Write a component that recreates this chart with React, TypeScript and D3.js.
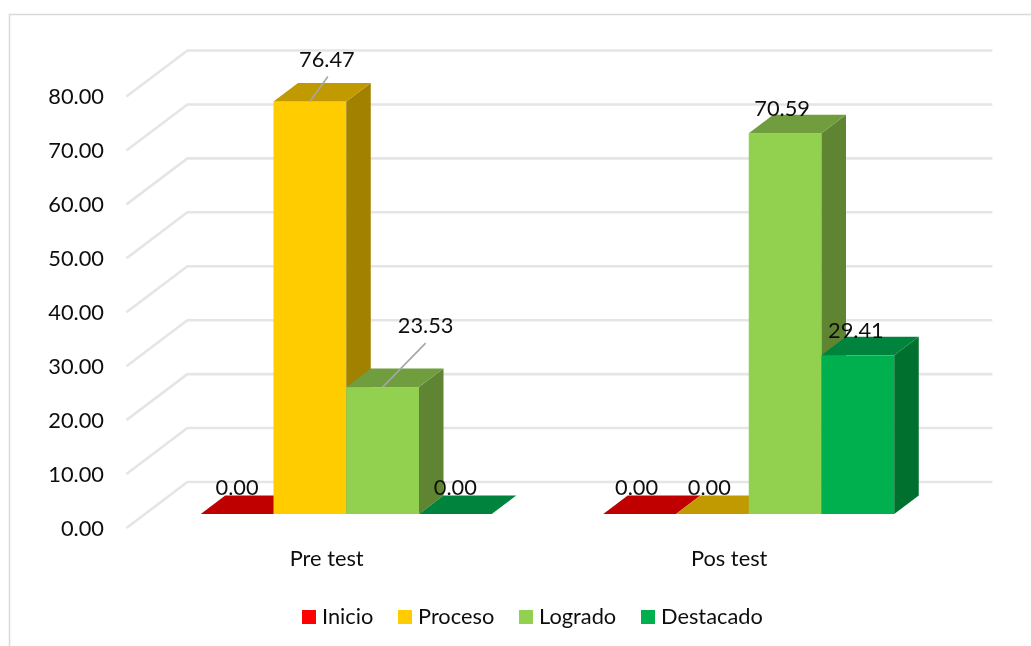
import React, { useRef, useEffect } from "react";
import * as d3 from "d3";

const categories = ["Pre test", "Pos test"];
const seriesNames = ["Inicio", "Proceso", "Logrado", "Destacado"];
const inicio = [0, 0];
const proceso = [76.47, 0];
const logrado = [23.53, 70.59];
const destacado = [0, 29.41];
const yTicks = [0, 10, 20, 30, 40, 50, 60, 70, 80];

const seriesValues = [inicio, proceso, logrado, destacado];

// front, top, side
const colors = [
  ["#FF0000", "#C00000", "#A00000"],
  ["#FFCC00", "#C09A00", "#A28100"],
  ["#92D050", "#6F9D3C", "#5F8433"],
  ["#00B050", "#00843C", "#006F2F"],
];

const W = 1031;
const H = 646;
const FONT = "Lato, 'Open Sans', sans-serif";
const FONT_SIZE = 21.8;

// 3d look: moving back by d shifts a point right and up
const DX = 24.5 / 18.5;
const barDepth = 18.5;
const toBack = 32;
const toFront = -14;

// label nudges off the bar's top centre [series][category]
const labelNudge = [
  [[0, -19], [-3, -19]],
  [[17, -35], [-3, -19]],
  [[43, -54], [-3, -17]],
  [[0, -19], [-2, -17]],
];
const leaderEnd: Record<string, number[]> = {
  "1-0": [18, -25],
  "2-0": [43, -44],
};

const legendSwatchX = [302, 398, 519, 641];

export default function App() {
  const ref = useRef<SVGSVGElement | null>(null);

  useEffect(() => {
    const svg = d3.select(ref.current);
    svg.selectAll("*").remove();

    const defs = svg.append("defs");
    defs.append("filter").attr("id", "soft")
      .append("feGaussianBlur").attr("stdDeviation", 0.5);

    const root = svg.append("g").attr("filter", "url(#soft)");

    // frame, only left and top are visible
    root.append("path")
      .attr("d", d3.line()([[9.5, H], [9.5, 14.5], [W, 14.5]]))
      .attr("fill", "none")
      .attr("stroke", "#d9d9d9")
      .attr("stroke-width", 1.5);

    const x0 = d3.scaleBand<string>()
      .domain(categories)
      .range([145, 950])
      .paddingInner(0.277)
      .paddingOuter(0.1385);
    const x1 = d3.scaleBand<string>()
      .domain(seriesNames)
      .range([0, x0.bandwidth()]);
    const y = d3.scaleLinear().domain([0, 80]).range([514, 82.5]);

    // gridlines: side wall + back wall
    const wallLeft = x0.range()[0];
    const wallRight = x0.range()[1];
    const grid = root.append("g");
    yTicks.forEach((t) => {
      const yBack = y(t) - toBack;
      const yFront = y(t) - toFront;
      grid.append("path")
        .attr("d", d3.line()([
          [wallLeft + toFront * DX, yFront],
          [wallLeft + toBack * DX, yBack],
          [wallRight + toBack * DX, yBack],
        ]))
        .attr("fill", "none")
        .attr("stroke", "#e5e5e5")
        .attr("stroke-width", 2.6);
    });

    // bars, painted left to right so each covers the last one's side
    const bars = root.append("g");
    const dx = barDepth * DX;
    categories.forEach((cat, c) => {
      seriesNames.forEach((name, s) => {
        const v = seriesValues[s][c];
        const l = (x0(cat) as number) + (x1(name) as number);
        const r = l + x1.bandwidth();
        const t = y(v);
        const b = y(0);
        const g = bars.append("g");
        if (v > 0) {
          g.append("rect").attr("x", l).attr("y", t)
            .attr("width", r - l).attr("height", b - t)
            .attr("fill", colors[s][0]);
          g.append("path")
            .attr("d", d3.line()([[r, t], [r + dx, t - barDepth], [r + dx, b - barDepth], [r, b]]) + "Z")
            .attr("fill", colors[s][2]);
        }
        g.append("path")
          .attr("d", d3.line()([[l, t], [l + dx, t - barDepth], [r + dx, t - barDepth], [r, t]]) + "Z")
          .attr("fill", colors[s][1]);
      });
    });

    // leader lines and data labels go on top of every bar
    const labels = root.append("g")
      .attr("font-family", FONT)
      .attr("font-size", FONT_SIZE)
      .attr("fill", "#111")
      .attr("text-anchor", "middle");
    categories.forEach((cat, c) => {
      seriesNames.forEach((name, s) => {
        const v = seriesValues[s][c];
        const cx = (x0(cat) as number) + (x1(name) as number) + x1.bandwidth() / 2;
        const top = y(v);
        const [nx, ny] = labelNudge[s][c];
        const lead = leaderEnd[s + "-" + c];
        if (lead) {
          root.append("line")
            .attr("x1", cx).attr("y1", top)
            .attr("x2", cx + lead[0]).attr("y2", top + lead[1])
            .attr("stroke", "#a6a6a6")
            .attr("stroke-width", 1.6);
        }
        labels.append("text")
          .attr("x", cx + nx)
          .attr("y", top + ny)
          .text(d3.format(".2f")(v));
      });
    });
    labels.raise();

    // value axis sits on the front edge of the side wall
    const axis = d3.axisLeft(y)
      .tickValues(yTicks)
      .tickSize(0)
      .tickPadding(0)
      .tickFormat((d) => d3.format(".2f")(d as number));
    const axisG = root.append("g")
      .attr("transform", `translate(104,${-toFront + 0.5})`)
      .call(axis as any);
    axisG.select(".domain").remove();
    axisG.selectAll("text")
      .attr("font-family", FONT)
      .attr("font-size", FONT_SIZE)
      .attr("fill", "#111");

    // category labels
    root.append("g")
      .attr("font-family", FONT)
      .attr("font-size", FONT_SIZE)
      .attr("fill", "#111")
      .attr("text-anchor", "middle")
      .selectAll("text")
      .data(categories)
      .join("text")
      .attr("x", (d) => (x0(d) as number) + x0.bandwidth() / 2 + toFront * DX - 1)
      .attr("y", 566)
      .text((d) => d);

    // legend
    const legend = root.append("g")
      .attr("font-family", FONT)
      .attr("font-size", FONT_SIZE)
      .attr("fill", "#111");
    seriesNames.forEach((name, s) => {
      legend.append("rect")
        .attr("x", legendSwatchX[s]).attr("y", 610)
        .attr("width", 14).attr("height", 14)
        .attr("fill", colors[s][0]);
      legend.append("text")
        .attr("x", legendSwatchX[s] + 20).attr("y", 624)
        .text(name);
    });
  }, []);

  return (
    <svg
      ref={ref}
      width={W}
      height={H}
      style={{ position: "absolute", left: 0, top: 0, display: "block", background: "#fff" }}
    />
  );
}
